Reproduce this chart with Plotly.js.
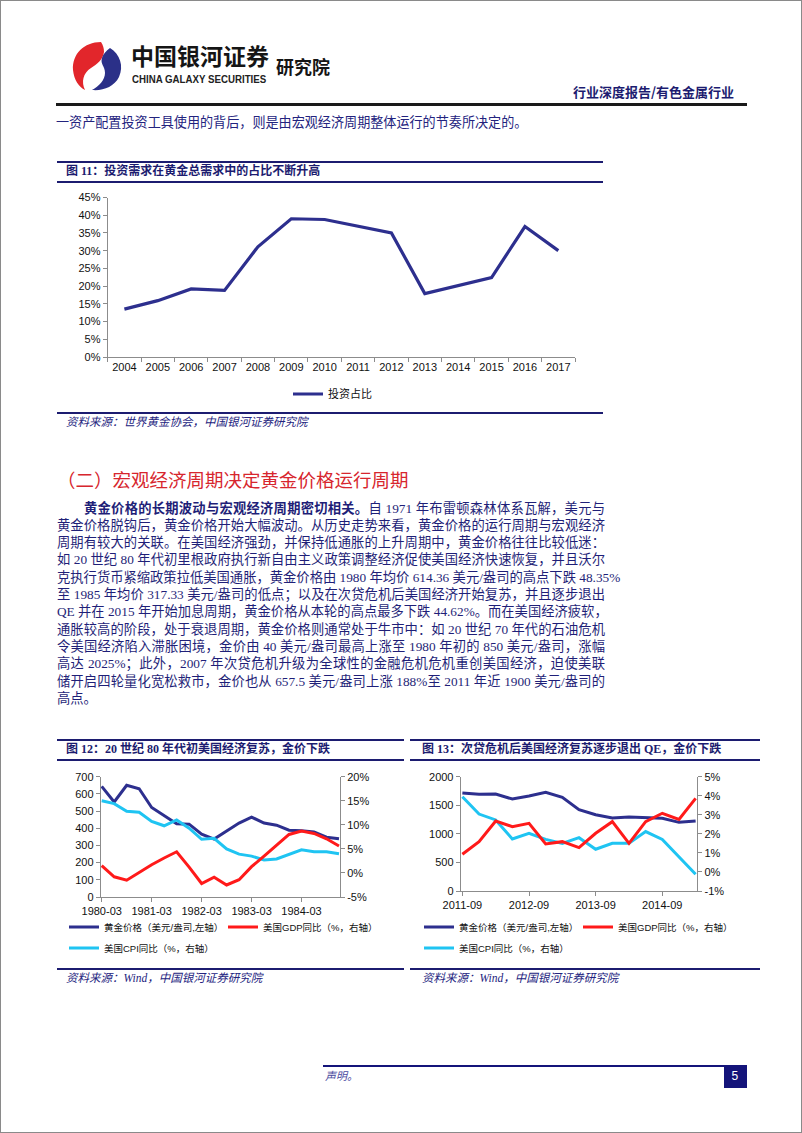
<!DOCTYPE html>
<html><head><meta charset="utf-8">
<script src="https://cdn.plot.ly/plotly-3.0.1.min.js"></script>
<style>
html,body{margin:0;padding:0;background:#fff;}
#page{position:relative;width:802px;height:1133px;overflow:hidden;background:#fff;font-family:"Liberation Serif","Noto Sans CJK SC",serif;color:#1f1f78;}
#frame{position:absolute;left:0;top:0;width:800px;height:1131px;border:1px solid #8a8a8a;pointer-events:none;z-index:6}
#plot{position:absolute;left:0;top:0;width:802px;height:1133px;z-index:1}
.t{position:absolute;white-space:nowrap;line-height:1;z-index:3}
.r{position:absolute;z-index:2}
.pl{position:absolute;z-index:3;line-height:1;white-space:nowrap;text-align:justify;text-align-last:justify;font-size:13.3px;}
</style></head>
<body>
<div id="page">
  <div id="plot"></div>
  <div id="frame"></div>
  <svg class="r" style="left:70px;top:40px" width="56" height="52" viewBox="0 0 56 52">
    <path d="M31 2 C14 2 2 14 3 30 C4 40 9 47 15 50 C11 42 13 33 21 28 C27 24 33 20 34 12 C34 8 33 5 31 2 Z" fill="#e2262b"/>
    <path d="M40 8 C50 14 54 26 49 37 C44 47 33 51 22 50 C29 46 35 40 35 33 C35 26 30 24 32 18 C33 14 36 11 40 8 Z" fill="#2b3088"/>
  </svg>
</div>
<script>
// ---------------- data ----------------
const years11 = ['2004','2005','2006','2007','2008','2009','2010','2011','2012','2013','2014','2015','2016','2017'];
const investShare = [13.5,15.9,19.2,18.8,31.1,39.0,38.8,37.0,35.0,17.9,20.2,22.4,36.8,30.0];

const quarters80 = ['1980-03','1980-06','1980-09','1980-12','1981-03','1981-06','1981-09','1981-12',
  '1982-03','1982-06','1982-09','1982-12','1983-03','1983-06','1983-09','1983-12',
  '1984-03','1984-06','1984-09','1984-12'];
const gold80 = [644,553,650,630,521,475,426,424,366,337,383,430,465,430,418,389,385,379,348,339];
const gdp80  = [1.5,-0.8,-1.5,0.1,1.7,3.1,4.4,1.2,-2.2,-0.9,-2.5,-1.4,1.3,3.5,5.8,8.0,8.7,8.2,7.1,5.6];
const cpi80  = [15.0,14.4,12.8,12.6,10.7,9.8,11.0,9.3,7.0,7.2,5.0,3.9,3.5,2.7,2.9,3.9,4.8,4.4,4.4,4.0];
const ticks80 = ['1980-03','1981-03','1982-03','1983-03','1984-03'];

const quarters11 = ['2011-09','2011-12','2012-03','2012-06','2012-09','2012-12','2013-03','2013-06',
  '2013-09','2013-12','2014-03','2014-06','2014-09','2014-12','2015-03'];
const gold11 = [1714,1691,1697,1609,1662,1726,1638,1423,1335,1277,1294,1289,1271,1201,1224];
const gdp11  = [0.93,1.59,2.67,2.38,2.55,1.47,1.59,1.28,2.03,2.64,1.50,2.64,3.08,2.76,3.86];
const cpi11  = [3.95,3.04,2.73,1.73,2.03,1.71,1.50,1.80,1.19,1.50,1.50,2.12,1.71,0.80,-0.12];
const ticks11 = ['2011-09','2012-09','2013-09','2014-09'];

const pctTicks12 = [-5,0,5,10,15,20];
const pctText12 = ['-5%','0%','5%','10%','15%','20%'];
const pctTicks13 = [-1,0,1,2,3,4,5];
const pctText13 = ['-1%','0%','1%','2%','3%','4%','5%'];

const names = {
  share:'投资占比',
  gold:'黄金价格（美元/盎司,左轴）',
  gdp:'美国GDP同比（%，右轴）',
  cpi:'美国CPI同比（%，右轴）'
};

// ---------------- page text ----------------
const page = document.getElementById('page');
function T(html, x, yc, size, st){
  const d = document.createElement('div');
  d.className = 't';
  d.innerHTML = html;
  d.style.left = x + 'px';
  d.style.top = (yc - 0.56*size) + 'px';
  d.style.fontSize = size + 'px';
  if (st) Object.assign(d.style, st);
  page.appendChild(d);
  return d;
}
function R(x, y, w, h, c){
  const d = document.createElement('div');
  d.className = 'r';
  Object.assign(d.style, {left:x+'px', top:y+'px', width:w+'px', height:h+'px', background:c});
  page.appendChild(d);
  return d;
}
function P(html, x, yc, w){
  const d = document.createElement('div');
  d.className = 'pl';
  d.innerHTML = html;
  d.style.left = x + 'px';
  d.style.top = (yc - 0.56*13.3) + 'px';
  d.style.width = w + 'px';
  page.appendChild(d);
  return d;
}
const NAVY = '#1c1c70';
// header
T('中国银河证券', 131, 57, 23, {fontFamily:'"Noto Sans CJK SC"', fontWeight:'700', color:'#151515'});
const cg = T('CHINA GALAXY SECURITIES', 132, 80, 10.5, {fontFamily:'"Liberation Sans Narrow","Liberation Sans"', fontWeight:'700', color:'#222', transformOrigin:'left center'});
T('研究院', 276, 67, 18, {fontFamily:'"Noto Sans CJK SC"', fontWeight:'700', color:'#151515'});
const hr = T('行业深度报告/有色金属行业', 0, 92, 13, {fontFamily:'"Noto Sans CJK SC"', fontWeight:'700', color:NAVY});
R(56, 103, 691, 2.5, '#1a1a1a');
T('一资产配置投资工具使用的背后，则是由宏观经济周期整体运行的节奏所决定的。', 56, 123, 13.1, {color:'#23237e'});

// chart 11 frame
R(57, 161, 546, 2, NAVY); R(57, 181, 546, 2, NAVY);
T('图 11：投资需求在黄金总需求中的占比不断升高', 66, 171.5, 12, {fontFamily:'"Liberation Serif","Noto Sans CJK SC"', fontWeight:'700', color:NAVY});
R(57, 412, 546, 2, NAVY);
T('资料来源：世界黄金协会，中国银河证券研究院', 66, 423, 11.5, {fontStyle:'italic', color:'#23237e'});

// section heading + paragraph
T('（二）宏观经济周期决定黄金价格运行周期', 57, 480, 18.5, {fontFamily:'"Noto Sans CJK SC"', color:'#d7262e'});
const lines = [
  [84, 521, '<b>黄金价格的长期波动与宏观经济周期密切相关。</b>自 1971 年布雷顿森林体系瓦解，美元与'],
  [57, 548, '黄金价格脱钩后，黄金价格开始大幅波动。从历史走势来看，黄金价格的运行周期与宏观经济'],
  [57, 548, '周期有较大的关联。在美国经济强劲，并保持低通胀的上升周期中，黄金价格往往比较低迷：'],
  [57, 548, '如 20 世纪 80 年代初里根政府执行新自由主义政策调整经济促使美国经济快速恢复，并且沃尔'],
  [57, 556, '克执行货币紧缩政策拉低美国通胀，黄金价格由 1980 年均价 614.36 美元/盎司的高点下跌 48.35%'],
  [57, 548, '至 1985 年均价 317.33 美元/盎司的低点；以及在次贷危机后美国经济开始复苏，并且逐步退出'],
  [57, 548, 'QE 并在 2015 年开始加息周期，黄金价格从本轮的高点最多下跌 44.62%。而在美国经济疲软，'],
  [57, 548, '通胀较高的阶段，处于衰退周期，黄金价格则通常处于牛市中：如 20 世纪 70 年代的石油危机'],
  [57, 548, '令美国经济陷入滞胀困境，金价由 40 美元/盎司最高上涨至 1980 年初的 850 美元/盎司，涨幅'],
  [57, 548, '高达 2025%；此外，2007 年次贷危机升级为全球性的金融危机危机重创美国经济，迫使美联'],
  [57, 548, '储开启四轮量化宽松救市，金价也从 657.5 美元/盎司上涨 188%至 2011 年近 1900 美元/盎司的']
];
lines.forEach((l, i) => P(l[2], l[0], 509 + 17.3*i, l[1]));
T('高点。', 57, 509 + 17.3*11, 13.3, {color:'#1f1f78'});

// chart 12 / 13 frames
R(57, 739, 347, 2, NAVY); R(57, 759, 347, 2, NAVY);
R(410, 739, 350, 2, NAVY); R(410, 759, 350, 2, NAVY);
T('图 12：20 世纪 80 年代初美国经济复苏，金价下跌', 66, 750, 12, {fontWeight:'700', color:NAVY});
T('图 13：次贷危机后美国经济复苏逐步退出 QE，金价下跌', 422, 750, 12, {fontWeight:'700', color:NAVY});
R(57, 968, 347, 2, NAVY); R(410, 968, 350, 2, NAVY);
T('资料来源：Wind，中国银河证券研究院', 66, 979, 11.5, {fontStyle:'italic', color:'#23237e'});
T('资料来源：Wind，中国银河证券研究院', 422, 979, 11.5, {fontStyle:'italic', color:'#23237e'});

// footer
R(323, 1065, 424, 2, '#14147a');
R(724, 1065, 23, 23, '#14147a');
T('5', 731.5, 1077, 12, {fontFamily:'"Liberation Sans"', color:'#fff'});
T('声明。', 325, 1077, 11, {fontStyle:'italic', color:'#4a4aa0'});

// fit widths
const cgw = cg.offsetWidth; cg.style.transform = 'scaleX(' + (134/cgw) + ')';
hr.style.left = (734 - hr.offsetWidth) + 'px';

// ---------------- plotly ----------------
const W = 802, H = 1133;
const fx = p => p / W, fy = p => 1 - p / H;
const C_NAVY = '#2d2f8e', C_RED = '#ff1a1a', C_CYAN = '#1fc4f2';
const axFont = {family:'"Liberation Sans", Arial, sans-serif', size:11, color:'#111'};
const baseAx = {showline:true, linecolor:'#8c8c8c', linewidth:1, ticks:'outside', ticklen:4, tickcolor:'#8c8c8c',
  showgrid:false, zeroline:false, tickfont:axFont, fixedrange:true, tickangle:0};

const traces = [
  {x:years11, y:investShare, xaxis:'x', yaxis:'y', mode:'lines', name:names.share, legend:'legend', legendrank:1,
   line:{color:C_NAVY, width:3.2}},
  {x:quarters80, y:gold80, xaxis:'x2', yaxis:'y2', mode:'lines', name:names.gold, legend:'legend2', legendrank:1,
   line:{color:C_NAVY, width:3}},
  {x:quarters80, y:gdp80, xaxis:'x2', yaxis:'y3', mode:'lines', name:names.gdp, legend:'legend2', legendrank:2,
   line:{color:C_RED, width:3}},
  {x:quarters80, y:cpi80, xaxis:'x2', yaxis:'y3', mode:'lines', name:names.cpi, legend:'legend3', legendrank:3,
   line:{color:C_CYAN, width:3}},
  {x:quarters11, y:gold11, xaxis:'x3', yaxis:'y4', mode:'lines', name:names.gold, legend:'legend4', legendrank:1,
   line:{color:C_NAVY, width:3}},
  {x:quarters11, y:gdp11, xaxis:'x3', yaxis:'y5', mode:'lines', name:names.gdp, legend:'legend4', legendrank:2,
   line:{color:C_RED, width:3}},
  {x:quarters11, y:cpi11, xaxis:'x3', yaxis:'y5', mode:'lines', name:names.cpi, legend:'legend5', legendrank:3,
   line:{color:C_CYAN, width:3}}
];
const order = [0,3,2,1,6,5,4];
const data = order.map(i => traces[i]);

const legFont = {family:'"Liberation Sans","Noto Sans CJK SC", sans-serif', size:9.5, color:'#111'};
const legBase = {orientation:'h', xanchor:'left', yanchor:'middle', bgcolor:'rgba(0,0,0,0)', borderwidth:0,
  font:legFont, traceorder:'normal', entrywidth:114, entrywidthmode:'pixels'};

const layout = {
  width:W, height:H, margin:{l:0, r:0, t:0, b:0, pad:0},
  paper_bgcolor:'rgba(0,0,0,0)', plot_bgcolor:'rgba(0,0,0,0)',
  showlegend:true,
  xaxis: Object.assign({}, baseAx, {domain:[fx(107.7), fx(575)], anchor:'y', type:'category',
    range:[-0.5, 13.5], tickson:'boundaries'}),
  yaxis: Object.assign({}, baseAx, {domain:[fy(357), fy(197.5)], anchor:'x', range:[0,45], dtick:5, ticksuffix:'%'}),
  xaxis2: Object.assign({}, baseAx, {domain:[fx(100.7), fx(340)], anchor:'y2', type:'category',
    categoryarray:quarters80, range:[-0.08, 19.08], tickmode:'array', tickvals:ticks80, ticktext:ticks80}),
  yaxis2: Object.assign({}, baseAx, {domain:[fy(897), fy(776.7)], anchor:'x2', range:[0,700], dtick:100}),
  yaxis3: Object.assign({}, baseAx, {overlaying:'y2', side:'right', anchor:'x2', range:[-5,20],
    tickmode:'array', tickvals:pctTicks12, ticktext:pctText12}),
  xaxis3: Object.assign({}, baseAx, {domain:[fx(460.7), fx(697.3)], anchor:'y4', type:'category',
    categoryarray:quarters11, range:[-0.1, 14.1], tickmode:'array', tickvals:ticks11, ticktext:ticks11}),
  yaxis4: Object.assign({}, baseAx, {domain:[fy(891), fy(776.7)], anchor:'x3', range:[0,2000], dtick:500}),
  yaxis5: Object.assign({}, baseAx, {overlaying:'y4', side:'right', anchor:'x3', range:[-1,5],
    tickmode:'array', tickvals:pctTicks13, ticktext:pctText13}),
  legend: Object.assign({}, legBase, {x:fx(288), y:fy(394), font:Object.assign({}, legFont, {size:11}), entrywidth:0}),
  legend2: Object.assign({}, legBase, {x:fx(64), y:fy(927)}),
  legend3: Object.assign({}, legBase, {x:fx(64), y:fy(948)}),
  legend4: Object.assign({}, legBase, {x:fx(419), y:fy(927)}),
  legend5: Object.assign({}, legBase, {x:fx(419), y:fy(948)})
};
Plotly.newPlot('plot', data, layout, {displayModeBar:false, staticPlot:true});
</script>
</body></html>
